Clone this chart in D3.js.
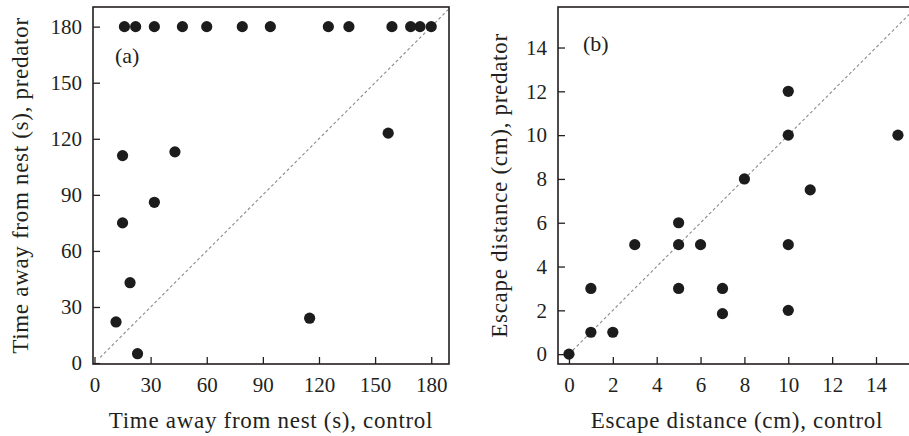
<!DOCTYPE html>
<html>
<head>
<meta charset="utf-8">
<script src="https://cdn.jsdelivr.net/npm/d3@7"></script>
<style>
  html, body { margin: 0; padding: 0; background: #fff; }
  svg { display: block; }
  text { font-family: "Liberation Serif", "DejaVu Serif", serif; fill: #231f20; }
</style>
</head>
<body>
<svg id="chart" width="909" height="436"></svg>
<script>
// Panel (a): time away from nest (s), control vs predator
const timeControl  = [16, 22, 32, 47, 60, 79, 94, 125, 136, 159, 169, 174, 180,
                      15, 43, 157, 32, 15, 19, 11.5, 23, 115];
const timePredator = [180, 180, 180, 180, 180, 180, 180, 180, 180, 180, 180, 180, 180,
                      111, 113, 123, 86, 75, 43, 22, 5, 24];
const timeTicks = [0, 30, 60, 90, 120, 150, 180];

// Panel (b): escape distance (cm), control vs predator
const escapeControl  = [10, 10, 15, 8, 11, 5, 3, 5, 6, 10, 1, 5, 7, 7, 10, 1, 2, 0];
const escapePredator = [12, 10, 10, 8, 7.5, 6, 5, 5, 5, 5, 3, 3, 3, 1.85, 2, 1, 1, 0];
const escapeTicks = [0, 2, 4, 6, 8, 10, 12, 14];

const panels = [
  {
    tag: "(a)",
    xs: timeControl, ys: timePredator, ticks: timeTicks,
    xDomain: [-0.8, 189.5], yDomain: [-0.5, 190.5],
    left: 93, right: 449, top: 7, bottom: 364,
    lineFrom: 3, lineTo: 190,
    xTitle: "Time away from nest (s), control",
    xTitleCx: 271,
    yTitle: "Time away from nest (s), predator",
    yTitleX: 28,
    tagDx: 22, tagDy: 56
  },
  {
    tag: "(b)",
    xs: escapeControl, ys: escapePredator, ticks: escapeTicks,
    xDomain: [-0.5, 15.55], yDomain: [-0.45, 15.85],
    left: 558, right: 910, top: 7, bottom: 364,
    lineFrom: 0, lineTo: 16,
    xTitle: "Escape distance (cm), control",
    xTitleCx: 737,
    yTitle: "Escape distance (cm), predator",
    yTitleX: 507,
    tagDx: 25, tagDy: 44
  }
];

const svg = d3.select("#chart");
const ink = "#231f20";

panels.forEach((p, i) => {
  const x = d3.scaleLinear().domain(p.xDomain).range([p.left, p.right]);
  const y = d3.scaleLinear().domain(p.yDomain).range([p.bottom, p.top]);
  const g = svg.append("g");

  const clipId = "clip" + i;
  svg.append("clipPath").attr("id", clipId)
    .append("rect")
    .attr("x", p.left).attr("y", p.top)
    .attr("width", p.right - p.left).attr("height", p.bottom - p.top);

  // 1:1 reference line
  g.append("line")
    .attr("clip-path", `url(#${clipId})`)
    .attr("x1", x(p.lineFrom)).attr("y1", y(p.lineFrom))
    .attr("x2", x(p.lineTo)).attr("y2", y(p.lineTo))
    .attr("stroke", "#8a8a8a").attr("stroke-width", 1.1)
    .attr("stroke-dasharray", "3,2.5");

  // axes with inward ticks
  const xAxis = d3.axisBottom(x).tickValues(p.ticks)
    .tickSizeInner(-7).tickSizeOuter(0).tickPadding(13);
  const yAxis = d3.axisLeft(y).tickValues(p.ticks)
    .tickSizeInner(-7).tickSizeOuter(0).tickPadding(11);

  const gx = g.append("g").attr("transform", `translate(0,${p.bottom})`).call(xAxis);
  const gy = g.append("g").attr("transform", `translate(${p.left},0)`).call(yAxis);
  [gx, gy].forEach(a => {
    a.select(".domain").remove();
    a.selectAll(".tick line").attr("stroke", ink).attr("stroke-width", 1.3);
    a.selectAll(".tick text")
      .attr("font-size", 21)
      .attr("font-family", "Liberation Serif")
      .attr("fill", ink);
  });

  // frame
  g.append("rect")
    .attr("x", p.left).attr("y", p.top)
    .attr("width", p.right - p.left).attr("height", p.bottom - p.top)
    .attr("fill", "none").attr("stroke", ink).attr("stroke-width", 1.6);

  // points
  g.append("g").selectAll("circle")
    .data(p.xs.map((v, k) => [v, p.ys[k]]))
    .join("circle")
    .attr("cx", d => x(d[0]))
    .attr("cy", d => y(d[1]))
    .attr("r", 5.6)
    .attr("fill", "#1c1c1c");

  // panel tag
  g.append("text")
    .attr("x", p.left + p.tagDx).attr("y", p.top + p.tagDy)
    .attr("font-size", 22)
    .text(p.tag);

  // axis titles
  g.append("text")
    .attr("x", p.xTitleCx)
    .attr("y", 428)
    .attr("text-anchor", "middle")
    .attr("font-size", 23)
    .attr("letter-spacing", 0.7)
    .text(p.xTitle);

  g.append("text")
    .attr("transform", `translate(${p.yTitleX},${(p.top + p.bottom) / 2}) rotate(-90)`)
    .attr("text-anchor", "middle")
    .attr("font-size", 23)
    .attr("letter-spacing", 0.7)
    .text(p.yTitle);
});
</script>
</body>
</html>
